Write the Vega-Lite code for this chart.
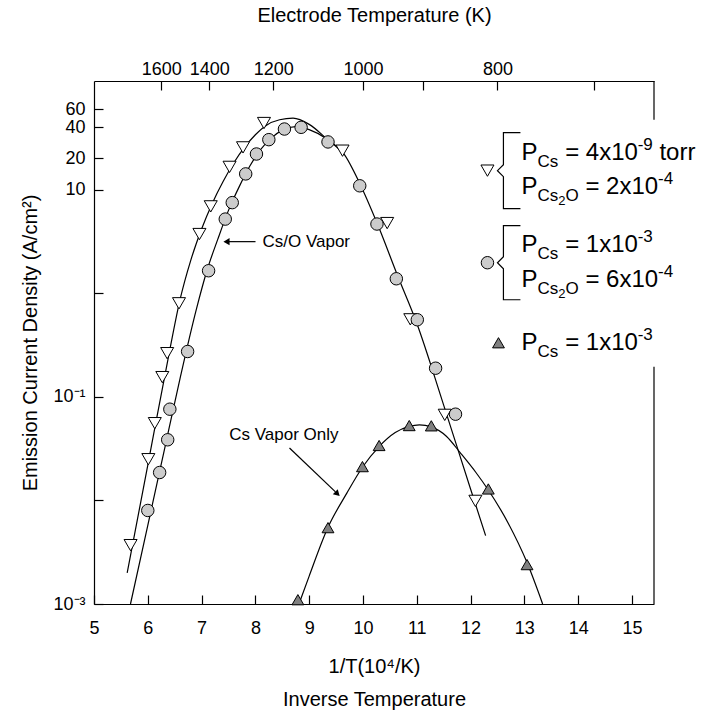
{
  "$schema": "https://vega.github.io/schema/vega-lite/v6.json",
  "width": 560,
  "height": 523,
  "autosize": {"type": "none"},
  "padding": {"left": 94, "top": 81, "right": 48, "bottom": 110},
  "background": "white",
  "config": {
    "view": {"stroke": null},
    "font": "Liberation Sans",
    "axis": {
      "domainColor": "black", "tickColor": "black", "labelColor": "black", "titleColor": "black",
      "grid": false, "labelFont": "Liberation Sans", "titleFont": "Liberation Sans",
      "labelFontSize": 18, "titleFontSize": 20, "titleFontWeight": "normal",
      "domainWidth": 1.2, "tickWidth": 1.2, "tickSize": -9, "labelOverlap": false, "labelBound": false, "labelFlush": false
    }
  },
  "datasets": {
    "curves": [
      {"c": "A", "x": 5.617, "y": 0.0020}, {"c": "A", "x": 6.0, "y": 0.0219}, {"c": "A", "x": 6.4, "y": 0.269},
      {"c": "A", "x": 6.6, "y": 0.871}, {"c": "A", "x": 6.8, "y": 2.09}, {"c": "A", "x": 7.0, "y": 4.17},
      {"c": "A", "x": 7.2, "y": 7.41}, {"c": "A", "x": 7.4, "y": 12.0}, {"c": "A", "x": 7.6, "y": 18.2},
      {"c": "A", "x": 7.8, "y": 25.7}, {"c": "A", "x": 8.0, "y": 33.9}, {"c": "A", "x": 8.2, "y": 41.7},
      {"c": "A", "x": 8.45, "y": 47.3}, {"c": "A", "x": 8.7, "y": 49.0}, {"c": "A", "x": 9.0, "y": 42.7},
      {"c": "A", "x": 9.33, "y": 30.9}, {"c": "A", "x": 9.64, "y": 22.4}, {"c": "A", "x": 9.94, "y": 11.5},
      {"c": "A", "x": 10.26, "y": 4.79}, {"c": "A", "x": 10.65, "y": 1.45}, {"c": "A", "x": 11.0, "y": 0.513},
      {"c": "A", "x": 11.5, "y": 0.0832}, {"c": "A", "x": 12.0, "y": 0.0129}, {"c": "A", "x": 12.28, "y": 0.00457},
      {"c": "B", "x": 5.678, "y": 0.001}, {"c": "B", "x": 6.0, "y": 0.00575}, {"c": "B", "x": 6.3, "y": 0.0295},
      {"c": "B", "x": 6.6, "y": 0.151}, {"c": "B", "x": 6.9, "y": 0.692}, {"c": "B", "x": 7.1, "y": 1.66},
      {"c": "B", "x": 7.3, "y": 3.31}, {"c": "B", "x": 7.5, "y": 6.31}, {"c": "B", "x": 7.7, "y": 10.7},
      {"c": "B", "x": 7.9, "y": 17.0}, {"c": "B", "x": 8.1, "y": 24.5}, {"c": "B", "x": 8.3, "y": 31.6},
      {"c": "B", "x": 8.5, "y": 37.6}, {"c": "B", "x": 8.75, "y": 40.7}, {"c": "B", "x": 9.0, "y": 38.0},
      {"c": "B", "x": 9.33, "y": 30.9}, {"c": "B", "x": 9.64, "y": 22.4},
      {"c": "C", "x": 8.81, "y": 0.001}, {"c": "C", "x": 9.0, "y": 0.00186}, {"c": "C", "x": 9.35, "y": 0.0055},
      {"c": "C", "x": 9.7, "y": 0.01175}, {"c": "C", "x": 9.99, "y": 0.0209}, {"c": "C", "x": 10.3, "y": 0.0331},
      {"c": "C", "x": 10.6, "y": 0.0452}, {"c": "C", "x": 10.86, "y": 0.0519}, {"c": "C", "x": 11.05, "y": 0.0537},
      {"c": "C", "x": 11.27, "y": 0.0513}, {"c": "C", "x": 11.55, "y": 0.0417}, {"c": "C", "x": 11.81, "y": 0.0288},
      {"c": "C", "x": 12.1, "y": 0.0186}, {"c": "C", "x": 12.33, "y": 0.0126}, {"c": "C", "x": 12.7, "y": 0.00603},
      {"c": "C", "x": 13.05, "y": 0.00251}, {"c": "C", "x": 13.34, "y": 0.001}
    ],
    "pts": [
      {"s": "a", "x": 5.68, "y": 0.0037}, {"s": "a", "x": 6.01, "y": 0.025}, {"s": "a", "x": 6.13, "y": 0.0557},
      {"s": "a", "x": 6.27, "y": 0.155}, {"s": "a", "x": 6.36, "y": 0.264}, {"s": "a", "x": 6.58, "y": 0.80},
      {"s": "a", "x": 6.96, "y": 3.73}, {"s": "a", "x": 7.17, "y": 6.9}, {"s": "a", "x": 7.52, "y": 16.6},
      {"s": "a", "x": 7.77, "y": 25.6}, {"s": "a", "x": 8.16, "y": 44}, {"s": "a", "x": 9.62, "y": 23.8},
      {"s": "a", "x": 10.45, "y": 4.76}, {"s": "a", "x": 10.88, "y": 0.56}, {"s": "a", "x": 11.52, "y": 0.067},
      {"s": "a", "x": 12.09, "y": 0.0099},
      {"s": "b", "x": 6.0, "y": 0.008}, {"s": "b", "x": 6.22, "y": 0.0186}, {"s": "b", "x": 6.37, "y": 0.0385},
      {"s": "b", "x": 6.41, "y": 0.076}, {"s": "b", "x": 6.74, "y": 0.274}, {"s": "b", "x": 7.13, "y": 1.65},
      {"s": "b", "x": 7.44, "y": 5.2}, {"s": "b", "x": 7.57, "y": 7.5}, {"s": "b", "x": 7.82, "y": 14.2},
      {"s": "b", "x": 8.02, "y": 22.1}, {"s": "b", "x": 8.25, "y": 30.4}, {"s": "b", "x": 8.54, "y": 38.5},
      {"s": "b", "x": 8.85, "y": 40}, {"s": "b", "x": 9.35, "y": 28.9}, {"s": "b", "x": 9.94, "y": 10.9},
      {"s": "b", "x": 10.26, "y": 4.66}, {"s": "b", "x": 10.62, "y": 1.38}, {"s": "b", "x": 11.01, "y": 0.555},
      {"s": "b", "x": 11.35, "y": 0.189}, {"s": "b", "x": 11.72, "y": 0.068},
      {"s": "c", "x": 8.79, "y": 0.0011}, {"s": "c", "x": 9.35, "y": 0.00546}, {"s": "c", "x": 9.99, "y": 0.0212},
      {"s": "c", "x": 10.3, "y": 0.0339}, {"s": "c", "x": 10.86, "y": 0.0528}, {"s": "c", "x": 11.27, "y": 0.0525},
      {"s": "c", "x": 12.33, "y": 0.0129}, {"s": "c", "x": 13.05, "y": 0.0024}
    ],
    "legsym": [
      {"s": "a", "x": 12.314, "y": 15.27}, {"s": "b", "x": 12.314, "y": 1.972}, {"s": "c", "x": 12.519, "y": 0.3327}
    ],
    "braces": [
      {"g": 1, "i": 1, "x": 12.927, "y": 35.56}, {"g": 1, "i": 2, "x": 12.611, "y": 35.56},
      {"g": 1, "i": 3, "x": 12.611, "y": 17.44}, {"g": 1, "i": 4, "x": 12.5, "y": 15.26},
      {"g": 1, "i": 5, "x": 12.611, "y": 13.36}, {"g": 1, "i": 6, "x": 12.611, "y": 6.552},
      {"g": 1, "i": 7, "x": 12.927, "y": 6.552},
      {"g": 2, "i": 1, "x": 12.927, "y": 4.489}, {"g": 2, "i": 2, "x": 12.611, "y": 4.489},
      {"g": 2, "i": 3, "x": 12.611, "y": 2.253}, {"g": 2, "i": 4, "x": 12.5, "y": 1.971},
      {"g": 2, "i": 5, "x": 12.611, "y": 1.725}, {"g": 2, "i": 6, "x": 12.611, "y": 0.8654},
      {"g": 2, "i": 7, "x": 12.927, "y": 0.8654}
    ],
    "lt": [
      {"k": "main", "x": 12.946, "y": 19.5, "t": "P"}, {"k": "sub", "x": 13.244, "y": 19.5, "t": "Cs"},
      {"k": "main", "x": 13.758, "y": 19.5, "t": "= 4x10"}, {"k": "sup", "x": 15.106, "y": 19.5, "t": "-9"},
      {"k": "main", "x": 15.511, "y": 19.5, "t": "torr"},
      {"k": "main", "x": 12.946, "y": 9.0, "t": "P"}, {"k": "sub", "x": 13.244, "y": 9.0, "t": "Cs"},
      {"k": "sub2", "x": 13.63, "y": 9.0, "t": "2"}, {"k": "sub", "x": 13.764, "y": 9.0, "t": "O"},
      {"k": "main", "x": 14.135, "y": 9.0, "t": "= 2x10"}, {"k": "sup", "x": 15.485, "y": 9.0, "t": "-4"},
      {"k": "main", "x": 12.946, "y": 2.518, "t": "P"}, {"k": "sub", "x": 13.244, "y": 2.518, "t": "Cs"},
      {"k": "main", "x": 13.758, "y": 2.518, "t": "= 1x10"}, {"k": "sup", "x": 15.106, "y": 2.518, "t": "-3"},
      {"k": "main", "x": 12.946, "y": 1.15, "t": "P"}, {"k": "sub", "x": 13.244, "y": 1.15, "t": "Cs"},
      {"k": "sub2", "x": 13.63, "y": 1.15, "t": "2"}, {"k": "sub", "x": 13.764, "y": 1.15, "t": "O"},
      {"k": "main", "x": 14.135, "y": 1.15, "t": "= 6x10"}, {"k": "sup", "x": 15.485, "y": 1.15, "t": "-4"},
      {"k": "main", "x": 12.946, "y": 0.2844, "t": "P"}, {"k": "sub", "x": 13.244, "y": 0.2844, "t": "Cs"},
      {"k": "main", "x": 13.758, "y": 0.2844, "t": "= 1x10"}, {"k": "sup", "x": 15.106, "y": 0.2844, "t": "-3"}
    ],
    "ann": [
      {"x": 8.132, "y": 3.15, "t": "Cs/O Vapor"},
      {"x": 7.513, "y": 0.04296, "t": "Cs Vapor Only"}
    ],
    "arrows": [
      {"g": "a1", "x": 8.002, "y": 3.15}, {"g": "a1", "x": 7.5, "y": 3.15},
      {"g": "a2", "x": 8.634, "y": 0.0321}, {"g": "a2", "x": 9.489, "y": 0.01208}
    ],
    "head1": [{"x": 7.463, "y": 3.15}],
    "head2": [{"x": 9.526, "y": 0.01156}],
    "frame": [
      {"x": 15.41, "y": 112, "y2": 47.4}, {"x": 15.41, "y": 0.195, "y2": 0.001}
    ]
  },
  "resolve": {"axis": {"x": "independent", "y": "independent"}},
  "layer": [
    {
      "data": {"name": "curves"},
      "mark": {"type": "line", "color": "black", "strokeWidth": 1.2, "interpolate": "monotone"},
      "encoding": {
        "x": {"field": "x", "type": "quantitative",
          "scale": {"domain": [5, 15.41], "nice": false, "zero": false},
          "axis": {"orient": "bottom", "values": [5, 6, 7, 8, 9, 10, 11, 12, 13, 14, 15], "format": "d",
            "labelPadding": 24, "title": ["1/T(10⁴/K)", "Inverse Temperature"], "titlePadding": 19, "titleLineHeight": 33}},
        "y": {"field": "y", "type": "quantitative",
          "scale": {"type": "log", "domain": [0.001, 112], "nice": false},
          "axis": {"orient": "left", "values": [0.001, 0.01, 0.1, 1, 10, 20, 40, 60], "labelPadding": 18,
            "labelExpr": "datum.value >= 10 ? format(datum.value, 'd') : (abs(datum.value - 0.1) < 1e-9 ? '10⁻¹' : (abs(datum.value - 0.001) < 1e-9 ? '10⁻³' : ''))",
            "title": "Emission Current Density (A/cm²)", "titlePadding": 12}},
        "detail": {"field": "c", "type": "nominal"}
      }
    },
    {
      "data": {"name": "frame"},
      "mark": {"type": "rule", "color": "black", "strokeWidth": 1.2},
      "encoding": {
        "x": {"field": "x", "type": "quantitative",
          "axis": {"orient": "top", "values": [6.25, 7.142857, 8.333333, 10, 11.111111, 12.5, 14.285714],
            "labelExpr": "(round(10000/datum.value) == 900 || round(10000/datum.value) == 700) ? '' : '' + round(10000/datum.value)",
            "labelPadding": 12, "title": "Electrode Temperature (K)", "titlePadding": 35}},
        "y": {"field": "y", "type": "quantitative", "axis": null},
        "y2": {"field": "y2"}
      }
    },
    {
      "data": {"name": "arrows"},
      "mark": {"type": "line", "color": "black", "strokeWidth": 1.2},
      "encoding": {
        "x": {"field": "x", "type": "quantitative", "axis": null},
        "y": {"field": "y", "type": "quantitative", "axis": null},
        "detail": {"field": "g", "type": "nominal"}
      }
    },
    {
      "data": {"name": "head1"},
      "mark": {"type": "point", "shape": "triangle-left", "filled": true, "color": "black", "size": 50, "opacity": 1},
      "encoding": {
        "x": {"field": "x", "type": "quantitative", "axis": null},
        "y": {"field": "y", "type": "quantitative", "axis": null}
      }
    },
    {
      "data": {"name": "head2"},
      "mark": {"type": "point", "shape": "triangle-right", "angle": 44, "filled": true, "color": "black", "size": 50, "opacity": 1},
      "encoding": {
        "x": {"field": "x", "type": "quantitative", "axis": null},
        "y": {"field": "y", "type": "quantitative", "axis": null}
      }
    },
    {
      "data": {"name": "pts"},
      "mark": {"type": "point", "filled": true, "stroke": "black", "strokeWidth": 1, "opacity": 1},
      "encoding": {
        "x": {"field": "x", "type": "quantitative", "axis": null},
        "y": {"field": "y", "type": "quantitative", "axis": null},
        "shape": {"field": "s", "type": "nominal", "scale": {"domain": ["a", "b", "c"], "range": ["triangle-down", "circle", "triangle-up"]}, "legend": null},
        "fill": {"field": "s", "type": "nominal", "scale": {"domain": ["a", "b", "c"], "range": ["#ffffff", "#cccccc", "#808080"]}, "legend": null},
        "size": {"field": "s", "type": "ordinal", "scale": {"domain": ["a", "b", "c"], "range": [170, 140, 170]}, "legend": null}
      }
    },
    {
      "data": {"name": "legsym"},
      "mark": {"type": "point", "filled": true, "stroke": "black", "strokeWidth": 1, "opacity": 1},
      "encoding": {
        "x": {"field": "x", "type": "quantitative", "axis": null},
        "y": {"field": "y", "type": "quantitative", "axis": null},
        "shape": {"field": "s", "type": "nominal", "legend": null},
        "fill": {"field": "s", "type": "nominal", "legend": null},
        "size": {"field": "s", "type": "ordinal", "legend": null}
      }
    },
    {
      "data": {"name": "braces"},
      "mark": {"type": "line", "color": "black", "strokeWidth": 1.2},
      "encoding": {
        "x": {"field": "x", "type": "quantitative", "axis": null},
        "y": {"field": "y", "type": "quantitative", "axis": null},
        "detail": {"field": "g", "type": "nominal"},
        "order": {"field": "i", "type": "quantitative"}
      }
    },
    {
      "data": {"name": "lt"},
      "transform": [{"filter": "datum.k == 'main'"}],
      "mark": {"type": "text", "align": "left", "baseline": "alphabetic", "fontSize": 24, "color": "black", "font": "Liberation Sans"},
      "encoding": {
        "x": {"field": "x", "type": "quantitative", "axis": null},
        "y": {"field": "y", "type": "quantitative", "axis": null},
        "text": {"field": "t"}
      }
    },
    {
      "data": {"name": "lt"},
      "transform": [{"filter": "datum.k == 'sub'"}],
      "mark": {"type": "text", "align": "left", "baseline": "alphabetic", "fontSize": 17, "dy": 7, "color": "black", "font": "Liberation Sans"},
      "encoding": {
        "x": {"field": "x", "type": "quantitative", "axis": null},
        "y": {"field": "y", "type": "quantitative", "axis": null},
        "text": {"field": "t"}
      }
    },
    {
      "data": {"name": "lt"},
      "transform": [{"filter": "datum.k == 'sub2'"}],
      "mark": {"type": "text", "align": "left", "baseline": "alphabetic", "fontSize": 13, "dy": 11, "color": "black", "font": "Liberation Sans"},
      "encoding": {
        "x": {"field": "x", "type": "quantitative", "axis": null},
        "y": {"field": "y", "type": "quantitative", "axis": null},
        "text": {"field": "t"}
      }
    },
    {
      "data": {"name": "lt"},
      "transform": [{"filter": "datum.k == 'sup'"}],
      "mark": {"type": "text", "align": "left", "baseline": "alphabetic", "fontSize": 17, "dy": -10, "color": "black", "font": "Liberation Sans"},
      "encoding": {
        "x": {"field": "x", "type": "quantitative", "axis": null},
        "y": {"field": "y", "type": "quantitative", "axis": null},
        "text": {"field": "t"}
      }
    },
    {
      "data": {"name": "ann"},
      "mark": {"type": "text", "align": "left", "baseline": "middle", "fontSize": 17, "color": "black", "font": "Liberation Sans"},
      "encoding": {
        "x": {"field": "x", "type": "quantitative", "axis": null},
        "y": {"field": "y", "type": "quantitative", "axis": null},
        "text": {"field": "t"}
      }
    }
  ]
}
